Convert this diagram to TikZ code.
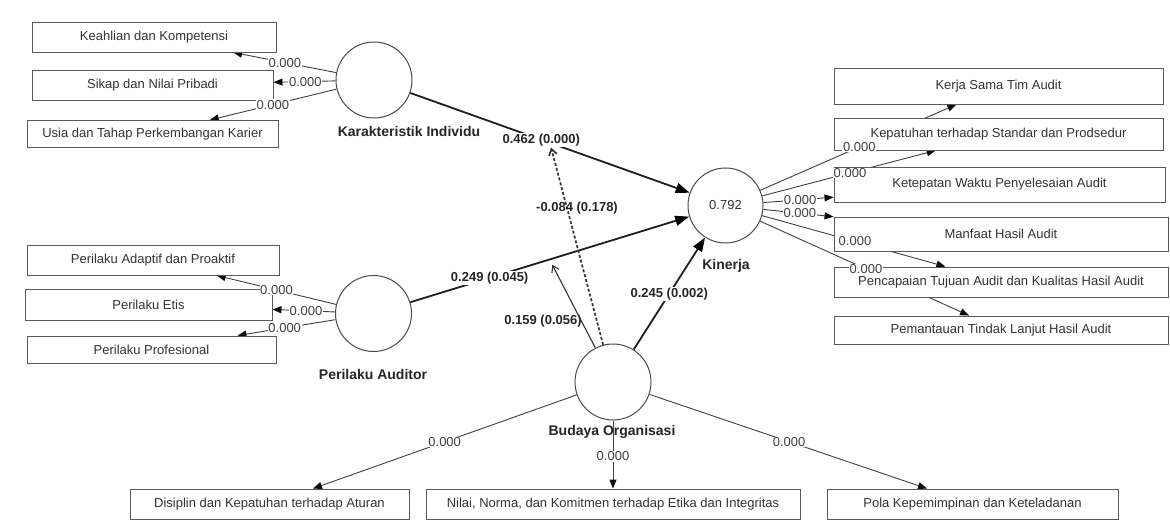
\documentclass[tikz,border=0pt]{standalone}
\usepackage{fontspec}
\setmainfont{Liberation Sans}
\usetikzlibrary{arrows.meta,calc}
\pgfdeclarelayer{paper}
\pgfdeclarelayer{bg}
\pgfsetlayers{paper,bg,main}
\begin{document}
\begin{tikzpicture}[x=1pt,y=-1pt,
  box/.style={draw=black!65, line width=0.9pt, fill=white, inner sep=0pt, font=\fontsize{13}{15}\selectfont, text=black!80},
  lv/.style={circle, draw=black!70, line width=1pt, fill=white, minimum size=76pt, inner sep=0pt},
  lvname/.style={font=\bfseries\fontsize{14}{16}\selectfont, text=black!85},
  load/.style={draw=black!75, line width=0.9pt, -{Triangle[length=9pt,width=7pt,color=black!95]}},
  mainpath/.style={draw=black!88, line width=1.8pt, -{Triangle[length=14pt,width=10pt,color=black]}},
  modpath/.style={draw=black!80, line width=1.1pt, -{Straight Barb[length=6pt,width=8pt]}},
  lbl/.style={fill=white, inner sep=0.6pt, font=\fontsize{13}{15}\selectfont, text=black!75},
  coef/.style={fill=white, inner sep=0.8pt, font=\bfseries\fontsize{13}{15}\selectfont, text=black!85},
]
\begin{pgfonlayer}{paper}
\fill[white] (0,0) rectangle (1170,524);
\end{pgfonlayer}
\useasboundingbox (0,0) rectangle (1170,524);

% latent variables
\node[lv] (ki) at (374,80) {};
\node[lv] (pa) at (373.5,313.5) {};
\node[lv, minimum size=75pt] (kin) at (725.5,205.5) {\fontsize{13}{15}\selectfont\color{black!80}0.792};
\node[lv] (bo) at (613,382) {};

\node[lvname] (kiname) at (409,131) {Karakteristik Individu};
\node[lvname] (paname) at (373,374) {Perilaku Auditor};
\node[lvname] (kinname) at (726,266) {Kinerja};
\node[lvname] (boname) at (612,432) {Budaya Organisasi};

% indicator boxes - left
\node[box, minimum width=244, minimum height=30] (k1) at (154,37) {Keahlian dan Kompetensi};
\node[box, minimum width=241, minimum height=30] (k2) at (152.5,85) {Sikap dan Nilai Pribadi};
\node[box, minimum width=251, minimum height=27] (k3) at (152.5,134) {Usia dan Tahap Perkembangan Karier};
\node[box, minimum width=252, minimum height=30] (p1) at (153,260) {Perilaku Adaptif dan Proaktif};
\node[box, minimum width=247, minimum height=31] (p2) at (148.5,304.5) {Perilaku Etis};
\node[box, minimum width=249, minimum height=27] (p3) at (151.5,349.5) {Perilaku Profesional};

% indicator boxes - right
\node[box, minimum width=329, minimum height=36] (r1) at (998.5,86) {Kerja Sama Tim Audit};
\node[box, minimum width=329, minimum height=32] (r2) at (998.5,134) {Kepatuhan terhadap Standar dan Prodsedur};
\node[box, minimum width=331, minimum height=35] (r3) at (999.5,184.5) {Ketepatan Waktu Penyelesaian Audit};
\node[box, minimum width=334, minimum height=34] (r4) at (1001,234) {Manfaat Hasil Audit};
\node[box, minimum width=334, minimum height=30] (r5) at (1001,282) {Pencapaian Tujuan Audit dan Kualitas Hasil Audit};
\node[box, minimum width=334, minimum height=28] (r6) at (1001,330) {Pemantauan Tindak Lanjut Hasil Audit};

% indicator boxes - bottom
\node[box, minimum width=279, minimum height=30] (b1) at (269.5,504) {Disiplin dan Kepatuhan terhadap Aturan};
\node[box, minimum width=374, minimum height=30] (b2) at (613,504) {Nilai, Norma, dan Komitmen terhadap Etika dan Integritas};
\node[box, minimum width=291, minimum height=30] (b3) at (972.5,504) {Pola Kepemimpinan dan Keteladanan};

\coordinate (m1) at ($(ki)!0.5!(kin)$);
\coordinate (m2) at ($(pa)!0.5!(kin)$);

\begin{pgfonlayer}{bg}
\foreach \s/\t in {ki/k1,ki/k2,ki/k3,pa/p1,pa/p2,pa/p3,kin/r1,kin/r2,kin/r3,kin/r4,kin/r5,kin/r6,bo/b1,bo/b2,bo/b3}
  \draw[load] (\s) -- (\t);
\draw[mainpath] (ki) -- (kin);
\draw[mainpath] (pa) -- (kin);
\draw[mainpath] (bo) -- (kin);
\draw[modpath, shorten >=6pt] (bo) -- (m2);
\draw[modpath, line width=1.7pt, dash pattern=on 3pt off 2pt, shorten >=5pt] (bo) -- (m1);
\end{pgfonlayer}

% loading labels
\node[lbl] (l1) at ($(ki)!0.405!(k1)$) {0.000};
\node[lbl] (l2) at ($(ki)!0.31!(k2)$) {0.000};
\node[lbl] (l3) at ($(ki)!0.457!(k3)$) {0.000};
\node[lbl] (l4) at ($(pa)!0.44!(p1)$) {0.000};
\node[lbl] (l5) at ($(pa)!0.30!(p2)$) {0.000};
\node[lbl] (l6) at ($(pa)!0.40!(p3)$) {0.000};
\node[lbl] (l7) at ($(kin)!0.49!(r1)$) {0.000};
\node[lbl] (l8) at ($(kin)!0.456!(r2)$) {0.000};
\node[lbl] (l9) at ($(kin)!0.272!(r3)$) {0.000};
\node[lbl] (l10) at ($(kin)!0.27!(r4)$) {0.000};
\node[lbl] (l11) at ($(kin)!0.47!(r5)$) {0.000};
\node[lbl] (l12) at ($(kin)!0.51!(r6)$) {0.000};
\node[lbl] (l13) at ($(bo)!0.49!(b1)$) {0.000};
\node[lbl] (l14) at ($(bo)!0.61!(b2)$) {0.000};
\node[lbl] (l15) at ($(bo)!0.49!(b3)$) {0.000};

% path coefficients
\node[coef] (c1) at ($(ki)!0.476!(kin)$) {0.462 (0.000)};
\node[coef] (c2) at ($(pa)!0.33!(kin)$) {0.249 (0.045)};
\node[coef] (c3) at ($(bo)!0.5!(kin)$) {0.245 (0.002)};
\node[coef, fill=none] (c4) at (577,208) {-0.084 (0.178)};
\node[coef, fill=none] (c5) at (543,321) {0.159 (0.056)};
\end{tikzpicture}
\end{document}
